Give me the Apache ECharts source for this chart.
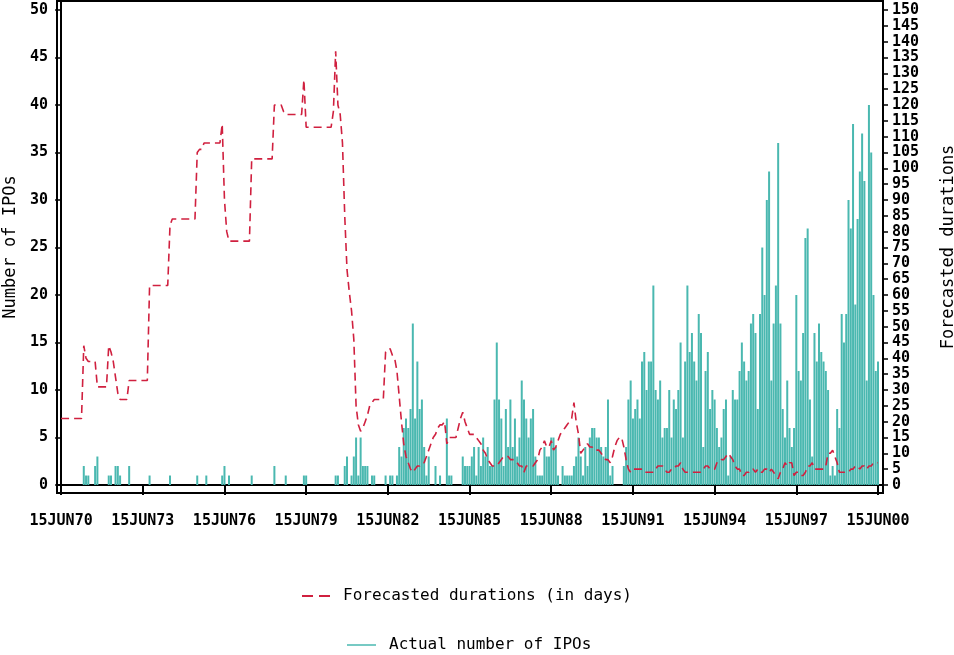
<!DOCTYPE html>
<html>
<head>
<meta charset="utf-8">
<script src="https://cdn.jsdelivr.net/npm/echarts@6/dist/echarts.min.js"></script>
<style>html,body{margin:0;padding:0;background:#fff}#c{width:954px;height:655px}</style>
</head>
<body>
<div id="c"></div>
<script>
// Months counted from 15JUN70 (index 0) to 15JUN00 (index 360)
const xTickLabels = ['15JUN70','15JUN73','15JUN76','15JUN79','15JUN82','15JUN85','15JUN88','15JUN91','15JUN94','15JUN97','15JUN00'];
const xTickMonths = [0,36,72,108,144,180,216,252,288,324,360];
const leftTicks = [0,5,10,15,20,25,30,35,40,45,50];
const rightTicks = [0,5,10,15,20,25,30,35,40,45,50,55,60,65,70,75,80,85,90,95,100,105,110,115,120,125,130,135,140,145,150];

// Actual number of IPOs per month (left axis)
const ipoCounts = [
0,0,0,0,0,0,0,0,0,0,
2,1,1,0,0,2,3,0,0,0,
0,1,1,0,2,2,1,0,0,0,
2,0,0,0,0,0,0,0,0,1,
0,0,0,0,0,0,0,0,1,0,
0,0,0,0,0,0,0,0,0,0,
1,0,0,0,1,0,0,0,0,0,
0,1,2,0,1,0,0,0,0,0,
0,0,0,0,1,0,0,0,0,0,
0,0,0,0,2,0,0,0,0,1,
0,0,0,0,0,0,0,1,1,0,
0,0,0,0,0,0,0,0,0,0,
0,1,1,0,0,2,3,0,1,3,
5,1,5,2,2,2,0,1,1,0,
0,0,0,1,0,1,1,0,1,4,
3,6,7,6,8,17,7,13,8,9,
4,1,3,0,0,2,0,1,0,0,
7,1,1,0,0,0,0,3,2,2,
2,3,4,1,4,2,5,3,4,2,
2,9,15,9,7,2,8,4,9,4,
7,3,5,11,9,7,5,7,8,3,
1,1,1,4,3,3,5,5,4,1,
0,2,1,1,1,1,2,3,5,3,
1,4,2,5,6,6,5,5,4,3,
4,9,1,2,0,0,0,0,2,4,
9,11,7,8,9,7,13,14,10,13,
13,21,10,9,11,5,6,6,10,5,
9,8,10,15,5,13,21,14,16,13,
11,18,16,4,12,14,8,10,9,6,
4,5,8,9,1,3,10,9,9,12,
15,13,11,12,17,18,16,8,18,25,
20,30,33,11,17,21,36,17,8,5,
11,6,4,6,20,12,11,16,26,27,
9,3,16,13,17,14,13,12,10,1,
2,1,8,6,18,15,18,30,27,38,
19,28,33,37,32,11,40,35,20,12,
13
];

// Forecasted durations in days per month (right axis)
const forecastDays = [
21,21,21,21,21,21,21,21,21,21,
44,40,39,39,39,39,31,31,31,31,
31,44,42,39,34,29,27,27,27,27,
33,33,33,33,33,33,33,33,33,63,
63,63,63,63,63,63,63,63,82,84,
84,84,84,84,84,84,84,84,84,84,
105,106,106,108,108,108,108,108,108,108,
108,114,90,80,77,77,77,77,77,77,
77,77,77,77,103,103,103,103,103,103,
103,103,103,103,120,120,120,120,118,117,
117,117,117,117,117,117,117,128,113,113,
113,113,113,113,113,113,113,113,113,113,
118,137,120,117,108,85,68,61,55,46,
25,19,17,18,20,22,25,26,27,27,
27,27,27,42,43,43,41,40,36,28,
20,13,9,7,5,4,5,6,6,7,
7,9,11,13,15,16,18,19,19,20,
13,15,15,15,15,18,21,23,20,18,
16,16,16,15,14,13,11,10,8,7,
6,6,6,7,8,9,9,9,8,8,
8,7,6,6,4,6,6,6,6,7,
8,11,12,14,12,12,14,11,12,14,
16,17,18,19,20,21,26,20,16,10,
11,12,13,12,12,11,11,11,10,9,
8,8,7,9,12,14,15,15,12,8,
5,4,5,5,5,5,5,4,4,4,
4,4,5,6,6,6,5,4,4,5,
5,6,6,7,5,4,4,4,4,4,
4,4,4,5,6,6,5,5,5,7,
7,8,8,9,10,9,8,6,5,5,
3,3,4,4,5,5,4,5,4,4,
5,5,4,5,4,3,2,4,5,7,
6,7,7,3,4,4,3,3,4,6,
6,7,5,5,5,5,5,6,10,10,
11,9,7,4,4,4,4,4,5,5,
6,6,5,6,6,5,6,6,7,7,
7
];

const chart = echarts.init(document.getElementById('c'), null, {renderer: 'canvas'});
const tickFont = {fontFamily: 'DejaVu Sans Mono', fontWeight: 'bold', fontSize: 15, color: '#000'};
const nameFont = {fontFamily: 'DejaVu Sans Mono', fontSize: 17, color: '#000'};
const legendFont = {fontFamily: 'DejaVu Sans Mono', fontSize: 16, color: '#000', padding: [0, 0, 0, 8]};

chart.setOption({
  animation: false,
  backgroundColor: '#fff',
  grid: {left: 57, right: 71, top: 1, bottom: 162, show: true, borderColor: '#000', borderWidth: 2,
         backgroundColor: 'transparent', containLabel: false, outerBoundsMode: 'none'},
  legend: [
    {data: [{name: 'Forecasted durations (in days)', icon: 'path://M0,0H11V2H0Z M17,0H28V2H17Z'}],
     top: 583, left: 297, itemWidth: 28, itemHeight: 2, textStyle: legendFont},
    {data: [{name: 'Actual number of IPOs', icon: 'rect'}], top: 632, left: 342, itemWidth: 29, itemHeight: 1.5, textStyle: legendFont}
  ],
  xAxis: {
    type: 'value', min: -1.8, max: 362.2,
    axisLine: {lineStyle: {color: '#000', width: 2}},
    axisTick: {customValues: xTickMonths, length: 10, lineStyle: {color: '#000', width: 2}},
    axisLabel: {customValues: xTickMonths, margin: 21, formatter: v => xTickLabels[xTickMonths.indexOf(Math.round(v))] || '', ...tickFont},
    splitLine: {show: false}
  },
  yAxis: [
    {
      type: 'value', min: -0.84, max: 50.95, position: 'left',
      name: 'Number of IPOs', nameLocation: 'middle', nameGap: 34, nameRotate: 90, nameTextStyle: nameFont,
      axisLine: {show: true, lineStyle: {color: '#000', width: 2}},
      axisTick: {show: true, customValues: leftTicks, length: 6, lineStyle: {color: '#000', width: 1.5}},
      axisLabel: {customValues: leftTicks, margin: 9, ...tickFont},
      splitLine: {show: false}
    },
    {
      type: 'value', min: -2.53, max: 152.85, position: 'right',
      name: 'Forecasted durations', nameLocation: 'middle', nameGap: 57, nameRotate: 90, nameTextStyle: nameFont,
      axisLine: {show: true, lineStyle: {color: '#000', width: 2}},
      axisTick: {show: true, customValues: rightTicks, length: 5, lineStyle: {color: '#000', width: 1.5}},
      axisLabel: {customValues: rightTicks, margin: 9, ...tickFont},
      splitLine: {show: false}
    }
  ],
  series: [
    {
      name: 'Actual number of IPOs', type: 'bar', xAxisIndex: 0, yAxisIndex: 0,
      barWidth: 2, itemStyle: {color: '#4ab8b0'},
      data: ipoCounts.map((v, i) => [i, v]),
      markLine: {silent: true, symbol: 'none', label: {show: false},
        lineStyle: {color: '#000', type: [1, 2], width: 1}, data: [{yAxis: 0}]}
    },
    {
      name: 'Forecasted durations (in days)', type: 'line', xAxisIndex: 0, yAxisIndex: 1,
      symbol: 'none', z: 5,
      lineStyle: {color: '#d0203f', width: 1.6, type: [8, 5]},
      itemStyle: {color: '#d0203f'},
      data: forecastDays.map((v, i) => [i, v])
    }
  ]
});
</script>
</body>
</html>
